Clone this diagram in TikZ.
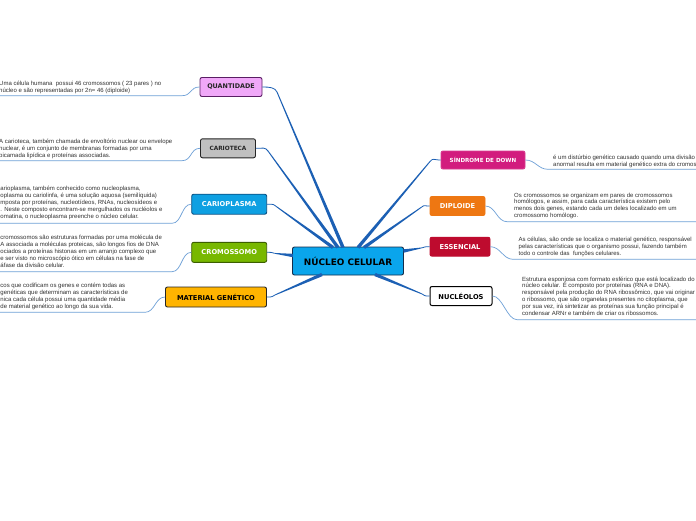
\documentclass[tikz,border=0pt]{standalone}
\usepackage{fontspec}
\usetikzlibrary{calc}
\newfontfamily\leaffont{Liberation Sans}
\newfontfamily\boxfont{DejaVu Sans}
\definecolor{conn}{RGB}{28,96,180}
\definecolor{leafc}{RGB}{110,160,215}
\definecolor{txt}{RGB}{50,50,50}
\definecolor{cfill}{RGB}{10,165,236}
\definecolor{cbord}{RGB}{20,45,75}
\definecolor{qfill}{RGB}{240,168,248}
\definecolor{qbord}{RGB}{90,30,100}
\definecolor{ctfill}{RGB}{192,192,192}
\definecolor{cpfill}{RGB}{14,160,226}
\definecolor{cpbord}{RGB}{10,80,130}
\definecolor{crfill}{RGB}{120,184,0}
\definecolor{crbord}{RGB}{60,95,0}
\definecolor{mgfill}{RGB}{255,180,0}
\definecolor{sdfill}{RGB}{210,28,126}
\definecolor{dpfill}{RGB}{238,119,18}
\definecolor{esfill}{RGB}{190,11,46}
\newcommand\taperline[2]{\fill[conn] ($(#1)!0.45pt!90:(#2)$) -- ($(#2)!1.7pt!-90:(#1)$) -- ($(#2)!1.7pt!90:(#1)$) -- ($(#1)!0.45pt!-90:(#2)$) -- cycle;}
\tikzset{
  topic/.style={draw, rounded corners=2pt, line width=0.9pt, inner sep=0pt,
    font=\boxfont\bfseries\fontsize{6.7}{7}\selectfont, align=center},
  leaf/.style={font=\leaffont\fontsize{6.0}{6.8}\selectfont, text=txt, inner sep=0pt, align=left, anchor=base west},
  leafline/.style={draw=leafc, line width=0.7pt},
  thinconn/.style={draw=conn, line width=0.8pt}
}
\begin{document}
\begin{tikzpicture}[x=1pt,y=-1pt]
\useasboundingbox[fill=white] (0,0) rectangle (696,520);
% central
\node[topic, fill=cfill, draw=cbord, minimum width=111pt, minimum height=28pt, font=\boxfont\bfseries\fontsize{8.9}{9}\selectfont] (c) at (348,261) {NÚCLEO CELULAR};
% left topics
\node[topic, fill=qfill, draw=qbord, minimum width=62pt, minimum height=19pt, text=black!85, font=\boxfont\bfseries\fontsize{6.4}{7}\selectfont] (q) at (231,87) {QUANTIDADE};
\node[topic, fill=ctfill, draw=black!85, minimum width=55pt, minimum height=19pt, text=black!85, font=\boxfont\bfseries\fontsize{5.8}{7}\selectfont] (ct) at (228,148.3) {CARIOTECA};
\node[topic, fill=cpfill, draw=cpbord, minimum width=75pt, minimum height=20pt, text=white] (cp) at (229.2,204.2) {CARIOPLASMA};
\node[topic, fill=crfill, draw=crbord, minimum width=75pt, minimum height=20pt, text=white] (cr) at (229.2,252.3) {CROMOSSOMO};
\node[topic, fill=mgfill, draw=black!85, minimum width=101pt, minimum height=20pt, text=black] (mg) at (216,297) {MATERIAL GENÉTICO};
% right topics
\node[topic, fill=sdfill, draw=sdfill!85!white, minimum width=84pt, minimum height=18pt, text=white, font=\boxfont\bfseries\fontsize{5.6}{7}\selectfont] (sd) at (483,160) {SÍNDROME DE DOWN};
\node[topic, fill=dpfill, draw=dpfill, minimum width=55pt, minimum height=19pt, text=white] (dp) at (457.5,206) {DIPLOIDE};
\node[topic, fill=esfill, draw=esfill, minimum width=60pt, minimum height=19pt, text=white] (es) at (460,246.7) {ESSENCIAL};
\node[topic, fill=white, draw=black, minimum width=62pt, minimum height=19pt, text=black, line width=1pt] (nu) at (461,296) {NUCLÉOLOS};
% connector coordinates
\coordinate (bq) at (277,92);    \coordinate (cq) at (343,247.5);
\coordinate (bct) at (268,151);  \coordinate (cct) at (338,247.5);
\coordinate (bcp) at (277,207);  \coordinate (ccp) at (333,247.5);
\coordinate (bcr) at (276,253.5);\coordinate (ccr) at (293,255.5);
\coordinate (bmg) at (276,294.5);\coordinate (cmg) at (322,274.5);
\coordinate (bsd) at (430,161.5);\coordinate (csd) at (358,247.5);
\coordinate (bdp) at (421,207.5);\coordinate (cdp) at (364,247.5);
\coordinate (bes) at (421,248);  \coordinate (ces) at (403.5,251);
\coordinate (bnu) at (421,293.5);\coordinate (cnu) at (375,274.5);
\foreach \n/\b/\k in {q/bq/cq, ct/bct/cct, cp/bcp/ccp, cr/bcr/ccr, mg/bmg/cmg}{
  \draw[thinconn] (\n.east) .. controls +(7,0) and ($(\b)!-5pt!(\k)$) .. (\b);
  \taperline{\b}{\k}
}
\foreach \n/\b/\k in {sd/bsd/csd, dp/bdp/cdp, es/bes/ces, nu/bnu/cnu}{
  \draw[thinconn] (\n.west) .. controls +(-7,0) and ($(\b)!-5pt!(\k)$) .. (\b);
  \taperline{\b}{\k}
}
% leaf lines
\coordinate (lq1) at (182,95.7);   \coordinate (lq2) at (0,95.7);
\coordinate (lct1) at (182,160.7); \coordinate (lct2) at (0,160.7);
\coordinate (lcp1) at (172,223.3); \coordinate (lcp2) at (0,223.3);
\coordinate (lcr1) at (172,271.7); \coordinate (lcr2) at (0,271.7);
\coordinate (lmg1) at (145,312.3); \coordinate (lmg2) at (0,312.3);
\coordinate (lsd1) at (548,169.3); \coordinate (lsd2) at (696,169.3);
\coordinate (ldp1) at (507,221.7); \coordinate (ldp2) at (696,221.7);
\coordinate (les1) at (513,259.3); \coordinate (les2) at (696,259.3);
\coordinate (lnu1) at (517,319.7); \coordinate (lnu2) at (696,319.7);
\foreach \n in {q,ct,cp,cr,mg}{
  \draw[leafline] (\n.west) .. controls +(-10,0) and +(10,0) .. (l\n1) -- (l\n2);
}
\foreach \n in {sd,dp,es,nu}{
  \draw[leafline] (\n.east) .. controls +(10,0) and +(-10,0) .. (l\n1) -- (l\n2);
}
% leaf texts (anchor = baseline of last line)
\node[leaf] (tq) at (-1,92.5) {Uma célula humana \ possui 46 cromossomos ( 23 pares ) no\\núcleo e são representadas por 2n= 46 (diploide)};
\node[leaf] (tct) at (-1,157) {A carioteca, também chamada de envoltório nuclear ou envelope\\nuclear, é um conjunto de membranas formadas por uma\\bicamada lipídica e proteínas associadas.};
\node[leaf] (tcp) at (0.3,218) {arioplasma, também conhecido como nucleoplasma,\\oplasma ou cariolinfa, é uma solução aquosa (semilíquida)\\mposta por proteínas, nucleotídeos, RNAs, nucleosídeos e\\. Neste composto encontram-se mergulhados os nucléolos e\\omatina, o nucleoplasma preenche o núcleo celular.};
\node[leaf] (tcr) at (0.3,267) {cromossomos são estruturas formadas por uma molécula de\\A associada a moléculas proteicas, são longos fios de DNA\\ociados a proteínas histonas em um arranjo complexo que\\e ser visto no microscópio ótico em células na fase de\\áfase da divisão celular.};
\node[leaf] (tmg) at (0.3,308) {cos que codificam os genes e contém todas as\\genéticas que determinam as características de\\nica cada célula possui uma quantidade média\\de material genético ao longo da sua vida.};
\node[leaf] (tsd) at (553,166) {é um distúrbio genético causado quando uma divisão\\anormal resulta em material genético extra do cromossomo};
\node[leaf] (tdp) at (514,217.5) {Os cromossomos se organizam em pares de cromossomos\\homólogos, e assim, para cada característica existem pelo\\menos dois genes, estando cada um deles localizado em um\\cromossomo homólogo.};
\node[leaf] (tes) at (518.5,255.3) {As células, são onde se localiza o material genético, responsável\\pelas características que o organismo possui, fazendo também\\todo o controle das \ funções celulares.};
\node[leaf] (tnu) at (522,315) {Estrutura esponjosa com formato esférico que está localizado do\\núcleo celular. É composto por proteínas (RNA e DNA).\\responsável pela produção do RNA ribossômico, que vai originar\\o ribossomo, que são organelas presentes no citoplasma, que\\por sua vez, irá sintetizar as proteínas sua função principal é\\condensar ARNr e também de criar os ribossomos.};
\end{tikzpicture}
\end{document}
